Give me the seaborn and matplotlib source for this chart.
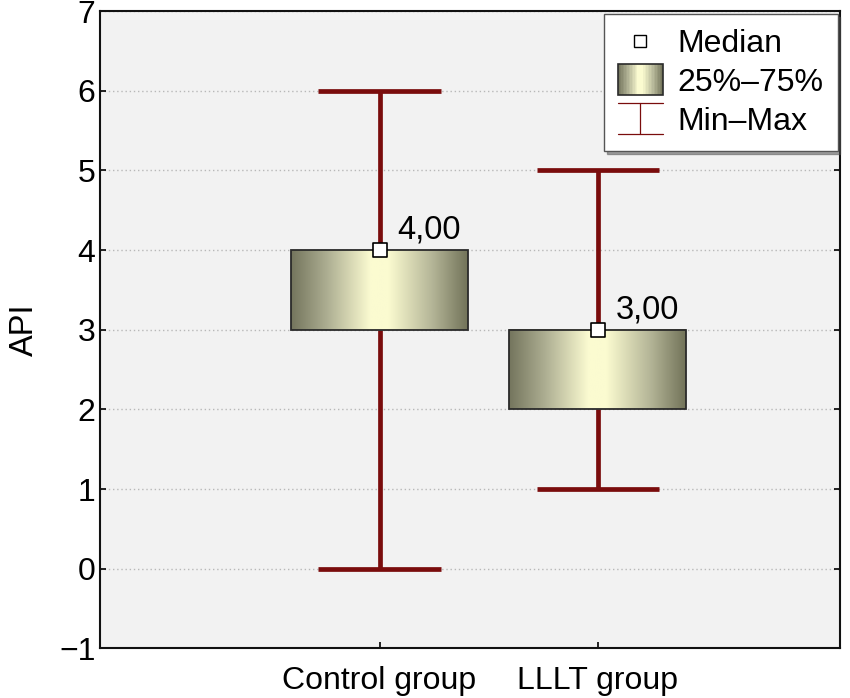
import numpy as np
import pandas as pd
import matplotlib
matplotlib.use("Agg")
import matplotlib.pyplot as plt
import seaborn as sns
from matplotlib.colors import LinearSegmentedColormap
from matplotlib.legend_handler import HandlerBase
from matplotlib.lines import Line2D
from matplotlib.patches import Rectangle

# data
groups = ["Control group", "LLLT group"]
mins = [0, 1]
q1s = [3, 2]
medians = [4, 3]
q3s = [4, 3]
maxs = [6, 5]
median_labels = ["4,00", "3,00"]

df = pd.DataFrame({"group": groups, "min": mins, "q1": q1s, "med": medians,
                   "q3": q3s, "max": maxs, "pos": [0, 1]})

sns.set_style("ticks")
plt.rcParams["font.family"] = ["Liberation Sans", "DejaVu Sans"]
plt.rcParams["text.color"] = "black"
plt.rcParams["axes.labelcolor"] = "black"

whisker_col = "#7a0c0c"
grad = LinearSegmentedColormap.from_list(
    "olive", [(0.0, "#74755d"), (0.2, "#acad91"), (0.45, "#fbfbd1"),
              (0.55, "#fbfbd0"), (0.8, "#b4b597"), (1.0, "#727359")])

fig, ax = plt.subplots(figsize=(8.5, 6.98), dpi=100)
fig.subplots_adjust(left=0.118, right=0.988, bottom=0.071, top=0.984)
ax.set_facecolor("#f2f2f2")

stats = [{"whislo": r["min"], "q1": r["q1"], "med": r["med"], "q3": r["q3"],
          "whishi": r["max"], "label": r["group"]} for _, r in df.iterrows()]
bp = ax.bxp(stats, positions=df["pos"], widths=0.81, patch_artist=True,
            showfliers=False, manage_ticks=False,
            boxprops=dict(facecolor="none", edgecolor="#2a2a2a", linewidth=1.3, zorder=4),
            whiskerprops=dict(color=whisker_col, linewidth=3.4, solid_capstyle="butt", zorder=2),
            capprops=dict(color=whisker_col, linewidth=3.4, solid_capstyle="butt", zorder=2),
            medianprops=dict(visible=False))
for cap in bp["caps"]:
    c = cap.get_xdata().mean()
    cap.set_xdata([c - 0.28, c + 0.28])

# gradient fill inside each box
g = np.linspace(0, 1, 256).reshape(1, -1)
for _, r in df.iterrows():
    ax.imshow(g, cmap=grad, aspect="auto", zorder=3, interpolation="bilinear",
              extent=[r["pos"] - 0.405, r["pos"] + 0.405, r["q1"], r["q3"]])

sns.scatterplot(data=df, x="pos", y="med", marker="s", s=110, color="white",
                edgecolor="black", linewidth=1.2, zorder=5, ax=ax, legend=False)
for i, r in df.iterrows():
    ax.annotate(median_labels[i], (r["pos"], r["med"]), xytext=(13, 3),
                textcoords="offset points", ha="left", va="bottom", fontsize=23.5,
                color="black")

ax.set_xlim(-1.28, 2.11)
ax.set_ylim(-1, 7)
ax.set_xticks(df["pos"])
ax.set_xticklabels(groups)
ax.set_yticks(range(-1, 8))
ax.set_yticklabels(["\u22121"] + [str(i) for i in range(0, 8)])
ax.set_xlabel("")
ax.set_ylabel("API", fontsize=23.5, labelpad=14)
ax.tick_params(axis="both", labelsize=23, direction="in", length=4, width=1.2,
               colors="black", right=True, top=False)
ax.tick_params(axis="x", pad=13)
ax.yaxis.grid(True, linestyle=(0, (1, 2)), color="#b8b8b8", linewidth=1.0)
ax.set_axisbelow(True)
for s in ax.spines.values():
    s.set_visible(True)
    s.set_color("#111111")
    s.set_linewidth(1.5)


class GradHandler(HandlerBase):
    def create_artists(self, legend, orig, xd, yd, w, h, fontsize, trans):
        arts = []
        n = 30
        for i in range(n):
            arts.append(Rectangle((xd + w * i / n, yd - 3), w / n + 0.3, h + 6,
                                  facecolor=grad((i + 0.5) / n), edgecolor="none",
                                  transform=trans))
        arts.append(Rectangle((xd, yd - 3), w, h + 6, facecolor="none",
                              edgecolor="#2a2a2a", linewidth=1.2, transform=trans))
        return arts


class WhiskHandler(HandlerBase):
    def create_artists(self, legend, orig, xd, yd, w, h, fontsize, trans):
        kw = dict(color=whisker_col, linewidth=0.9, transform=trans)
        return [Line2D([xd, xd + w], [yd + h + 3, yd + h + 3], **kw),
                Line2D([xd, xd + w], [yd - 3, yd - 3], **kw),
                Line2D([xd + w / 2, xd + w / 2], [yd - 3, yd + h + 3], **kw)]


h_med = Line2D([], [], marker="s", linestyle="none", markersize=9,
               markerfacecolor="white", markeredgecolor="black", markeredgewidth=1.0)
h_box = Rectangle((0, 0), 1, 1)
h_wh = Line2D([], [])
leg = ax.legend([h_med, h_box, h_wh], ["Median", "25%\u201375%", "Min\u2013Max"],
                handler_map={h_box: GradHandler(), h_wh: WhiskHandler()},
                loc="upper right", bbox_to_anchor=(0.997, 0.995), fontsize=23,
                frameon=True, fancybox=False, shadow=True, handlelength=1.4,
                handletextpad=0.45, labelspacing=0.28, borderpad=0.45,
                borderaxespad=0.0)
leg.get_frame().set_edgecolor("#555555")
leg.get_frame().set_linewidth(1.0)
leg.get_frame().set_facecolor("white")
leg.set_zorder(10)

fig.savefig("out.png", dpi=100)
